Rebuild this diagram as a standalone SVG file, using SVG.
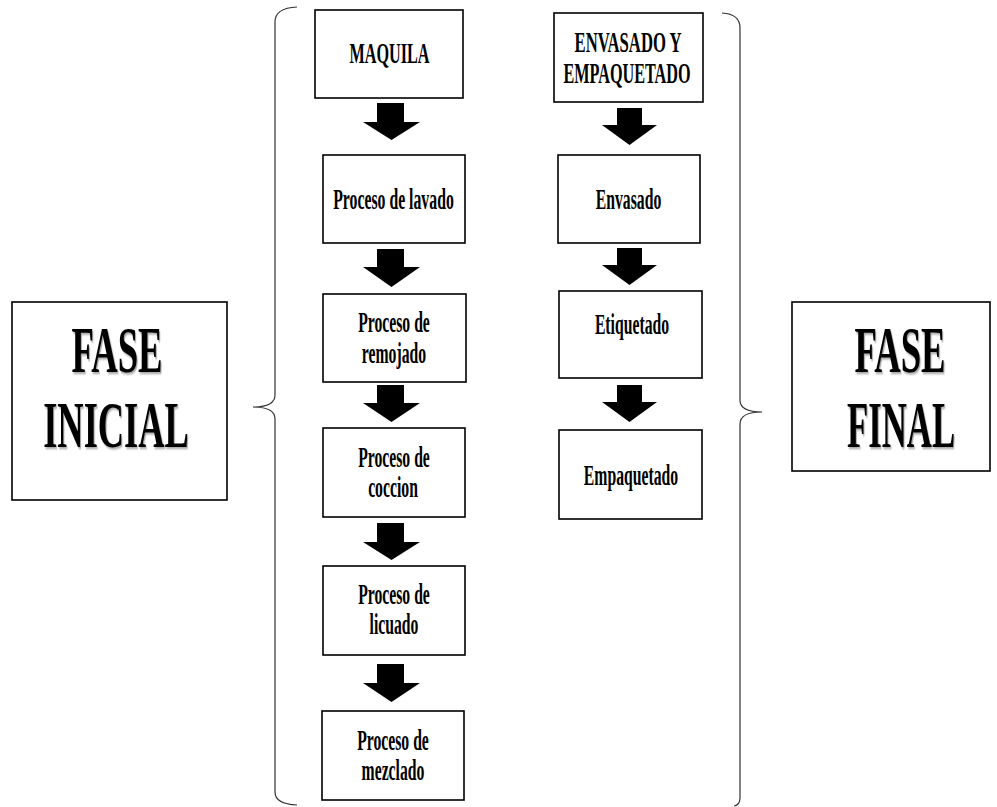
<svg xmlns="http://www.w3.org/2000/svg" width="997" height="807" viewBox="0 0 997 807">
<style>
.box{fill:#fff;stroke:#000;stroke-width:1.6}
.t{font-family:"Liberation Serif","Times New Roman",serif;font-weight:bold;font-size:30px;fill:#000;text-anchor:middle}
.big{font-family:"Liberation Serif","Times New Roman",serif;font-weight:bold;font-size:65px;fill:#000;text-anchor:middle}
.brace{fill:none;stroke:#333;stroke-width:1.2}
.arrow{fill:#000}
</style>
<defs>
<filter id="sh" x="-10%" y="-10%" width="130%" height="130%">
<feDropShadow dx="2" dy="2" stdDeviation="1.2" flood-color="#000" flood-opacity="0.35"/>
</filter>
</defs>
<rect width="997" height="807" fill="#fff"/>

<g id="fase-inicial">
<rect class="box" x="12" y="302" width="215" height="198"/>
<text class="big" filter="url(#sh)" transform="translate(117 372) scale(0.565 1)">FASE</text>
<text class="big" filter="url(#sh)" transform="translate(116 447) scale(0.56 1)">INICIAL</text>
</g>

<g id="fase-final">
<rect class="box" x="792" y="302" width="198" height="169"/>
<text class="big" filter="url(#sh)" transform="translate(900 372) scale(0.565 1)">FASE</text>
<text class="big" filter="url(#sh)" transform="translate(901 447) scale(0.535 1)">FINAL</text>
</g>

<g id="braces">
<path class="brace" d="M297,7 Q275,8 275,22 L275,395 Q275,407 253,407 Q275,407 275,419 L275,792 Q275,804 297,805"/>
<path class="brace" d="M722,13 Q740,14 740,28 L740,400 Q740,412 762,412 Q740,412 740,424 L740,798 Q740,805 734,806"/>
</g>

<g id="maquila">
<rect class="box" x="315" y="10" width="148" height="88"/>
<text class="t" font-size="28" transform="translate(389.5 63) scale(0.54 1)">MAQUILA</text>
</g>
<g id="lavado">
<rect class="box" x="323" y="155" width="142" height="88"/>
<text class="t" transform="translate(393.5 209) scale(0.526 1)">Proceso de lavado</text>
</g>
<g id="remojado">
<rect class="box" x="323" y="294" width="143" height="88"/>
<text class="t" transform="translate(394 332) scale(0.524 1)">Proceso de</text>
<text class="t" transform="translate(394 363) scale(0.524 1)">remojado</text>
</g>
<g id="coccion">
<rect class="box" x="323" y="428" width="142" height="89"/>
<text class="t" transform="translate(394 467) scale(0.524 1)">Proceso de</text>
<text class="t" transform="translate(393 497) scale(0.524 1)">coccion</text>
</g>
<g id="licuado">
<rect class="box" x="323" y="566" width="142" height="89"/>
<text class="t" transform="translate(394 604) scale(0.524 1)">Proceso de</text>
<text class="t" transform="translate(394 634) scale(0.524 1)">licuado</text>
</g>
<g id="mezclado">
<rect class="box" x="322" y="711" width="142" height="89"/>
<text class="t" transform="translate(393 750) scale(0.524 1)">Proceso de</text>
<text class="t" transform="translate(393 780) scale(0.524 1)">mezclado</text>
</g>

<g id="envasado-empaquetado">
<rect class="box" x="554" y="13" width="149" height="89"/>
<text class="t" font-size="28" transform="translate(628 52) scale(0.555 1)">ENVASADO Y</text>
<text class="t" font-size="28" transform="translate(627 83) scale(0.54 1)">EMPAQUETADO</text>
</g>
<g id="envasado">
<rect class="box" x="558" y="155" width="142" height="88"/>
<text class="t" transform="translate(628.5 209) scale(0.524 1)">Envasado</text>
</g>
<g id="etiquetado">
<rect class="box" x="559" y="291" width="143" height="87"/>
<text class="t" transform="translate(632 334) scale(0.524 1)">Etiquetado</text>
</g>
<g id="empaquetado">
<rect class="box" x="559" y="430" width="143" height="89"/>
<text class="t" transform="translate(631 485) scale(0.524 1)">Empaquetado</text>
</g>

<g id="connectors">
<polygon class="arrow" points="377,103 404,103 404,122 420,122 391.5,140 363,122 377,122"/>
<polygon class="arrow" points="377,249 404,249 404,267 420,267 391.5,287 363,267 377,267"/>
<polygon class="arrow" points="377,385 404,385 404,403 420,403 391.5,422 363,403 377,403"/>
<polygon class="arrow" points="377,523 404,523 404,542 420,542 391.5,560 363,542 377,542"/>
<polygon class="arrow" points="377,664 404,664 404,683 420,683 391.5,702 363,683 377,683"/>
<polygon class="arrow" points="617,108 642,108 642,125 657,125 629.5,145 602,125 617,125"/>
<polygon class="arrow" points="617,248 642,248 642,265 657,265 629.5,285 602,265 617,265"/>
<polygon class="arrow" points="617,385 642,385 642,402 657,402 629.5,422 602,402 617,402"/>
</g>
</svg>
